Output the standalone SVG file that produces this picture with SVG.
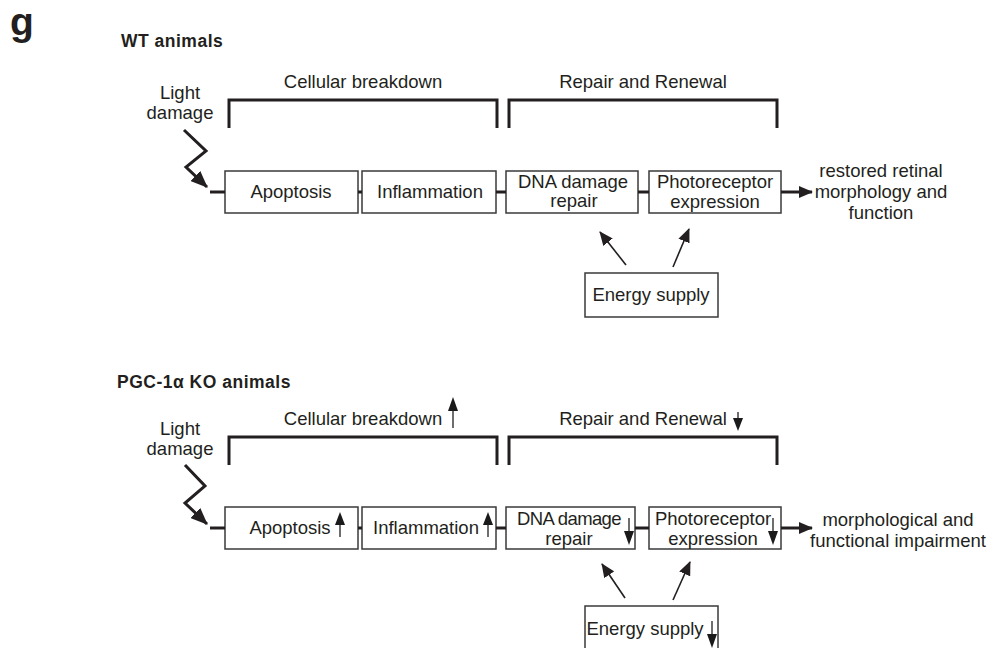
<svg xmlns="http://www.w3.org/2000/svg" width="995" height="648" viewBox="0 0 995 648">
<style>
text{font-family:"Liberation Sans",Arial,sans-serif;fill:#231f20;font-size:18.5px}
.c{text-anchor:middle}
.b{font-weight:bold}
.box{fill:#fff;stroke:#3a3a3a;stroke-width:1.5}
.br{fill:none;stroke:#231f20;stroke-width:3}
.ln{stroke:#231f20;stroke-width:3;fill:none}
.th{stroke:#231f20;stroke-width:1.6;fill:none}
.ti{stroke:#4a4a4a;stroke-width:1.6;fill:none}
.hd{fill:#1a1a1a}
.zz{stroke:#231f20;stroke-width:3;fill:none;stroke-linejoin:miter}
</style>
<defs>
<marker id="ah" markerUnits="userSpaceOnUse" markerWidth="14" markerHeight="12" refX="13" refY="6" orient="auto"><path d="M0,0 L14,6 L0,12 z" fill="#231f20"/></marker>
<marker id="za" markerUnits="userSpaceOnUse" markerWidth="17" markerHeight="14" refX="16" refY="7" orient="auto"><path d="M0,0 L17,7 L0,14 z" fill="#231f20"/></marker>
</defs>

<text x="10" y="35" class="b" style="font-size:39px">g</text>

<!-- WT panel -->
<g id="wt-title"><text x="121" y="47" class="b" style="font-size:17.5px;letter-spacing:0.5px">WT animals</text></g>
<g id="wt-light"><text x="180" y="99" class="c">Light</text><text x="180" y="119" class="c">damage</text></g>
<g id="wt-cellular"><text x="363" y="88" class="c">Cellular breakdown</text><path class="br" d="M229,128 V100 H497 V128"/></g>
<g id="wt-repair"><text x="643" y="88" class="c">Repair and Renewal</text><path class="br" d="M509,128 V100 H777 V128"/></g>
<g id="wt-apoptosis"><rect class="box" x="225" y="171" width="133" height="42"/><text x="291" y="198" class="c">Apoptosis</text></g>
<g id="wt-inflammation"><rect class="box" x="362" y="171" width="134" height="42"/><text x="430" y="198" class="c">Inflammation</text></g>
<g id="wt-dna"><rect class="box" x="506" y="171" width="132" height="42"/><text x="573" y="188" class="c">DNA damage</text><text x="574" y="207" class="c">repair</text></g>
<g id="wt-photo"><rect class="box" x="649" y="171" width="132" height="42"/><text x="715" y="188" class="c">Photoreceptor</text><text x="715" y="207.5" class="c">expression</text></g>
<g id="wt-energy"><rect class="box" x="585" y="273" width="133" height="44"/><text x="651" y="301" class="c">Energy supply</text></g>
<g id="wt-outcome"><text x="881" y="177" class="c">restored retinal</text><text x="881" y="198" class="c">morphology and</text><text x="881" y="219" class="c">function</text></g>

<g id="wt-connectors">
<polyline class="zz" points="184,130 206,151 186,167 207,187" marker-end="url(#za)"/>
<line class="ln" x1="210" y1="192" x2="225" y2="192"/>
<line class="ln" x1="358" y1="192" x2="362" y2="192"/>
<line class="ln" x1="496" y1="192" x2="506" y2="192"/>
<line class="ln" x1="638" y1="192" x2="649" y2="192"/>
<line class="ln" x1="781" y1="192" x2="812" y2="192" marker-end="url(#ah)"/>
<line class="th" x1="626" y1="265" x2="600" y2="232" marker-end="url(#ah)"/>
<line class="th" x1="673" y1="267" x2="689" y2="229" marker-end="url(#ah)"/>
</g>

<!-- KO panel -->
<g id="ko-title"><text x="117" y="388" class="b" style="font-size:17.5px;letter-spacing:0.5px">PGC-1α KO animals</text></g>
<g id="ko-light"><text x="180" y="435" class="c">Light</text><text x="180" y="455" class="c">damage</text></g>
<g id="ko-cellular"><text x="363" y="425" class="c">Cellular breakdown</text><path class="br" d="M229,465 V437 H497 V465"/></g>
<g id="ko-repair"><text x="643" y="425" class="c">Repair and Renewal</text><path class="br" d="M509,465 V437 H777 V465"/></g>
<g id="ko-apoptosis"><rect class="box" x="225" y="507" width="133" height="42"/><text x="290" y="534" class="c">Apoptosis</text></g>
<g id="ko-inflammation"><rect class="box" x="362" y="507" width="134" height="42"/><text x="426" y="534" class="c">Inflammation</text></g>
<g id="ko-dna"><rect class="box" x="506" y="507" width="129" height="42"/><text x="569" y="525" class="c" style="letter-spacing:-0.6px">DNA damage</text><text x="569" y="544.5" class="c">repair</text></g>
<g id="ko-photo"><rect class="box" x="649" y="507" width="132" height="42"/><text x="713" y="525" class="c">Photoreceptor</text><text x="713" y="544.5" class="c">expression</text></g>
<g id="ko-energy"><rect class="box" x="585" y="606" width="133" height="46"/><text x="645" y="635" class="c">Energy supply</text></g>
<g id="ko-outcome"><text x="898" y="526" class="c">morphological and</text><text x="898" y="547" class="c">functional impairment</text></g>

<g id="ko-indicators">
<line class="ti" x1="453" y1="428" x2="453" y2="405"/><polygon class="hd" points="453,397 448,411 458,411"/>
<line class="ti" x1="738" y1="412" x2="738" y2="423"/><polygon class="hd" points="738,431 733,418 743,418"/>
<line class="ti" x1="340" y1="537" x2="340" y2="520"/><polygon class="hd" points="340,512 335,525 345,525"/>
<line class="ti" x1="488" y1="537" x2="488" y2="520"/><polygon class="hd" points="488,512 483,525 493,525"/>
<line class="ti" x1="629" y1="518" x2="629" y2="537"/><polygon class="hd" points="629,545 624,531 634,531"/>
<line class="ti" x1="773" y1="518" x2="773" y2="537"/><polygon class="hd" points="773,545 768,531 778,531"/>
<line class="ti" x1="712" y1="621" x2="712" y2="640"/><polygon class="hd" points="712,648 707,634 717,634"/>
</g>

<g id="ko-connectors">
<polyline class="zz" points="185,465 205,486 185,503 207,524" marker-end="url(#za)"/>
<line class="ln" x1="210" y1="528" x2="225" y2="528"/>
<line class="ln" x1="358" y1="528" x2="362" y2="528"/>
<line class="ln" x1="496" y1="528" x2="506" y2="528"/>
<line class="ln" x1="635" y1="528" x2="649" y2="528"/>
<line class="ln" x1="781" y1="528" x2="812" y2="528" marker-end="url(#ah)"/>
<line class="th" x1="625" y1="598" x2="602" y2="564" marker-end="url(#ah)"/>
<line class="th" x1="673" y1="600" x2="690" y2="562" marker-end="url(#ah)"/>
</g>
</svg>
